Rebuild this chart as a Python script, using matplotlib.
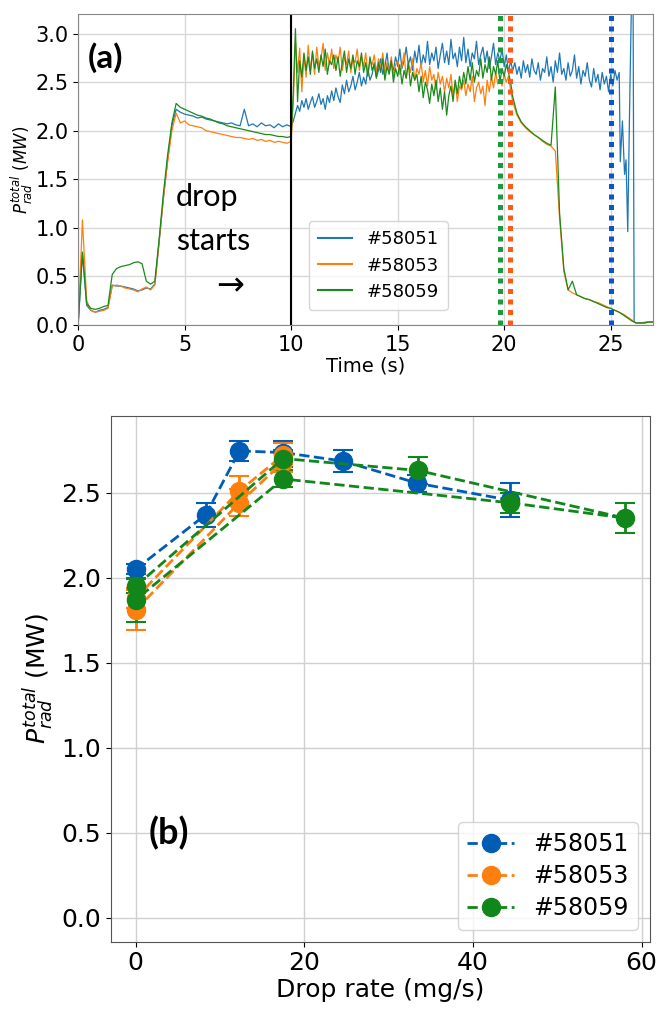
import matplotlib
matplotlib.use('Agg')
import matplotlib.pyplot as plt
from matplotlib.lines import Line2D
import numpy as np

# ---- panel (a): radiated power time traces ----
# segment A: 0 - 9.8 s every 0.2 s, segment B: 10.0 - 20.4 s every 0.1 s,
# segment C: after 20.4 s (0.2 s for #58053/#58059, 0.1 s for #58051)
shots = ['#58051', '#58053', '#58059']

p_58051_a = [
    0.00, 0.74, 0.20, 0.15, 0.13, 0.15, 0.16, 0.18, 0.41, 0.40,
    0.40, 0.39, 0.38, 0.37, 0.35, 0.36, 0.38, 0.37, 0.42, 0.85,
    1.30, 1.70, 2.05, 2.22, 2.19, 2.17, 2.16, 2.15, 2.13, 2.14,
    2.12, 2.11, 2.10, 2.09, 2.08, 2.07, 2.08, 2.06, 2.05, 2.22,
    2.05, 2.07, 2.04, 2.08, 2.05, 2.06, 2.03, 2.07, 2.04, 2.06,
]
p_58051_b = [
    2.04, 2.10, 2.18, 2.26, 2.20, 2.31, 2.24, 2.33, 2.22, 2.29,
    2.35, 2.24, 2.30, 2.38, 2.27, 2.33, 2.22, 2.36, 2.29, 2.41,
    2.31, 2.44, 2.35, 2.29, 2.47, 2.38, 2.52, 2.40, 2.46, 2.56,
    2.42, 2.50, 2.60, 2.46, 2.55, 2.48, 2.64, 2.52, 2.58, 2.70,
    2.55, 2.62, 2.74, 2.58, 2.66, 2.80, 2.60, 2.70, 2.62, 2.76,
    2.66, 2.84, 2.64, 2.72, 2.86, 2.68, 2.76, 2.62, 2.82, 2.70,
    2.88, 2.66, 2.78, 2.70, 2.92, 2.68, 2.80, 2.72, 2.86, 2.64,
    2.78, 2.90, 2.70, 2.82, 2.68, 2.94, 2.74, 2.80, 2.66, 2.86,
    2.72, 2.96, 2.70, 2.84, 2.66, 2.80, 2.74, 2.92, 2.68, 2.78,
    2.86, 2.70, 2.82, 2.64, 2.76, 2.90, 2.68, 2.80, 2.72, 2.84,
    2.66, 2.78, 2.60, 2.72, 2.62,
]
p_58051_c = [
    2.70, 2.58, 2.66, 2.54, 2.72,
    2.60, 2.68, 2.55, 2.74, 2.62, 2.58, 2.70, 2.52, 2.64, 2.60,
    2.76, 2.56, 2.66, 2.50, 2.72, 2.60, 2.80, 2.58, 2.64, 2.52,
    2.70, 2.56, 2.62, 2.78, 2.54, 2.66, 2.48, 2.62, 2.56, 2.70,
    2.52, 2.45, 2.64, 2.50, 2.58, 2.42, 2.60, 2.48, 2.56, 2.40,
    2.58, 2.46, 2.62, 2.52, 2.60,
]
# disruption of #58051
t_58051_tail = [25.45, 25.55, 25.65, 25.72, 25.8, 25.9, 25.98, 26.05, 26.1, 26.2, 26.4, 26.7, 27.0]
p_58051_tail = [1.68, 2.10, 1.55, 1.70, 0.96, 2.40, 3.40, 3.40, 0.03, 0.02, 0.02, 0.03, 0.03]

p_58053_a = [
    0.00, 1.08, 0.25, 0.15, 0.13, 0.14, 0.15, 0.17, 0.40, 0.41,
    0.40, 0.38, 0.37, 0.36, 0.34, 0.37, 0.39, 0.36, 0.41, 0.85,
    1.30, 1.68, 2.00, 2.18, 2.08, 2.10, 2.06, 2.05, 2.04, 2.03,
    2.00, 1.99, 1.98, 1.97, 1.96, 1.95, 1.94, 1.93, 1.93, 1.92,
    1.91, 1.92, 1.90, 1.91, 1.89, 1.90, 1.88, 1.89, 1.88, 1.87,
]
p_58053_b = [
    1.89, 2.30, 2.92, 2.60, 2.85, 2.40, 2.78, 2.55, 2.88, 2.62,
    2.80, 2.58, 2.86, 2.66, 2.74, 2.90, 2.62, 2.80, 2.68, 2.84,
    2.64, 2.78, 2.70, 2.86, 2.62, 2.76, 2.68, 2.82, 2.60, 2.74,
    2.70, 2.84, 2.62, 2.76, 2.66, 2.80, 2.58, 2.72, 2.68, 2.78,
    2.60, 2.74, 2.64, 2.80, 2.58, 2.70, 2.62, 2.76, 2.56, 2.68,
    2.72, 2.58, 2.66, 2.80, 2.54, 2.70, 2.60, 2.74, 2.52, 2.64,
    2.58, 2.70, 2.50, 2.62, 2.46, 2.66, 2.52, 2.58, 2.42, 2.60,
    2.48, 2.56, 2.40, 2.54, 2.44, 2.58, 2.36, 2.50, 2.30, 2.46,
    2.42, 2.52, 2.36, 2.48, 2.40, 2.56, 2.30, 2.44, 2.50, 2.38,
    2.46, 2.26, 2.52, 2.40, 2.56, 2.44, 2.60, 2.48, 2.54, 2.46,
    2.58, 2.50, 2.56, 2.42, 2.30,
]
p_58053_c = [
    2.16, 2.08, 2.03, 1.99, 1.96, 1.93, 1.89,
    1.86, 1.84, 1.79, 1.10, 0.55, 0.36, 0.33, 0.31, 0.29, 0.27,
    0.26, 0.24, 0.23, 0.21, 0.19, 0.17, 0.15, 0.13, 0.11, 0.08,
    0.05, 0.02, 0.02, 0.02, 0.03, 0.03,
]

p_58059_a = [
    0.00, 0.75, 0.22, 0.17, 0.16, 0.17, 0.19, 0.20, 0.52, 0.58,
    0.60, 0.61, 0.62, 0.64, 0.65, 0.63, 0.45, 0.42, 0.45, 0.88,
    1.35, 1.75, 2.08, 2.28, 2.24, 2.22, 2.20, 2.18, 2.16, 2.15,
    2.13, 2.12, 2.10, 2.08, 2.07, 2.05, 2.04, 2.03, 2.02, 2.01,
    2.00, 1.99, 1.98, 1.97, 1.96, 1.96, 1.95, 1.94, 1.94, 1.93,
]
p_58059_b = [
    1.94, 2.40, 3.05, 2.30, 2.72, 2.55, 2.80, 2.62, 2.76, 2.58,
    2.82, 2.64, 2.74, 2.60, 2.78, 2.66, 2.84, 2.58, 2.72, 2.68,
    2.78, 2.62, 2.76, 2.56, 2.70, 2.82, 2.60, 2.74, 2.64, 2.78,
    2.58, 2.72, 2.66, 2.80, 2.60, 2.70, 2.56, 2.76, 2.62, 2.68,
    2.54, 2.70, 2.60, 2.74, 2.52, 2.66, 2.58, 2.72, 2.50, 2.64,
    2.56, 2.68, 2.48, 2.62, 2.54, 2.70, 2.46, 2.60, 2.52, 2.58,
    2.40, 2.56, 2.34, 2.50, 2.42, 2.28, 2.48, 2.36, 2.52, 2.30,
    2.44, 2.22, 2.40, 2.16, 2.36, 2.46, 2.30, 2.52, 2.38, 2.56,
    2.44, 2.60, 2.48, 2.66, 2.52, 2.70, 2.50, 2.62, 2.56, 2.74,
    2.54, 2.68, 2.60, 2.76, 2.52, 2.66, 2.58, 2.72, 2.50, 2.64,
    2.56, 2.68, 2.60, 2.50, 2.35,
]
p_58059_c = [
    2.18, 2.09, 2.04, 2.00, 1.96, 1.93, 1.90,
    1.87, 1.85, 2.45, 1.15, 0.58, 0.36, 0.45, 0.31, 0.29, 0.27,
    0.26, 0.24, 0.22, 0.20, 0.18, 0.17, 0.15, 0.13, 0.10, 0.07,
    0.04, 0.02, 0.02, 0.02, 0.03, 0.03,
]

drop_start = 10.0
# end of drop injection per shot
drop_end = {'#58059': 19.8, '#58053': 20.25, '#58051': 25.0}

# ---- panel (b): mean radiated power vs drop rate ----
rate_58051 = [0, 8.3, 12.3, 17.5, 24.6, 33.4, 44.4]
prad_58051 = [2.05, 2.37, 2.745, 2.735, 2.685, 2.555, 2.455]
err_58051 = [0.03, 0.07, 0.06, 0.07, 0.065, 0.05, 0.10]

rate_58053 = [0, 12.3, 17.5, 17.5, 12.3, 0]
prad_58053 = [1.81, 2.44, 2.68, 2.72, 2.51, 1.88]
err_58053 = [0.12, 0.08, 0.06, 0.07, 0.09, 0.06]

rate_58059 = [0, 17.5, 33.5, 58.0, 44.4, 17.5, 0]
prad_58059 = [1.95, 2.70, 2.63, 2.35, 2.44, 2.58, 1.87]
err_58059 = [0.04, 0.05, 0.08, 0.09, 0.06, 0.05, 0.13]

line_colors = ['#1f77b4', '#ff7f0e', '#1b8a1b']
dot_colors = {'#58059': '#1a9a3a', '#58053': '#ff5a1a', '#58051': '#0a55c8'}
point_colors = ['#005db5', '#ff7f0e', '#11871b']


def main():
    fig = plt.figure(figsize=(6.68, 10.09), dpi=100)

    # ---------------- (a) ----------------
    ax1 = fig.add_axes([0.117, 0.678, 0.861, 0.308])
    t_a = np.arange(len(p_58053_a)) * 0.2
    t_b = 10.0 + np.arange(len(p_58053_b)) * 0.1
    t_c = 20.6 + np.arange(len(p_58053_c)) * 0.2
    t_c_blue = 20.5 + np.arange(len(p_58051_c)) * 0.1

    t1 = np.concatenate([t_a, t_b, t_c_blue, t_58051_tail])
    p1 = p_58051_a + p_58051_b + p_58051_c + p_58051_tail
    t23 = np.concatenate([t_a, t_b, t_c])
    ax1.plot(t1, p1, color=line_colors[0], lw=0.9, label=shots[0])
    ax1.plot(t23, p_58053_a + p_58053_b + p_58053_c, color=line_colors[1], lw=0.9, label=shots[1])
    ax1.plot(t23, p_58059_a + p_58059_b + p_58059_c, color=line_colors[2], lw=0.9, label=shots[2])

    ax1.axvline(drop_start, color='black', lw=1.5)
    for s in ['#58059', '#58053', '#58051']:
        ax1.axvline(drop_end[s], color=dot_colors[s], lw=3.6, ls=(0, (1, 1.1)))

    ax1.set_xlim(0, 27.0)
    ax1.set_ylim(0, 3.2)
    ax1.set_xticks([0, 5, 10, 15, 20, 25])
    ax1.set_yticks(np.arange(0, 3.01, 0.5))
    ax1.grid(True, color='#d8d8d8', lw=1)
    ax1.set_axisbelow(True)
    ax1.tick_params(labelsize=15)
    ax1.set_xlabel('Time (s)', fontsize=14, labelpad=1)
    ax1.set_ylabel(r'$P_{rad}^{total}\ (MW)$', fontsize=12, labelpad=0)
    for sp in ax1.spines.values():
        sp.set_color('#888888')

    ax1.text(0.016, 0.86, '(a)', transform=ax1.transAxes, fontsize=24,
             fontweight='bold', family='Lato', va='center', ha='left')
    ax1.text(4.6, 1.32, 'drop', fontsize=22, family='Lato', va='center', ha='left')
    ax1.text(4.6, 0.86, 'starts', fontsize=22, family='Lato', va='center', ha='left')
    ax1.text(6.5, 0.40, '\u2192', fontsize=24, va='center', ha='left')

    leg1 = ax1.legend(loc='lower left', bbox_to_anchor=(0.385, 0.02), fontsize=13,
                      handlelength=1.9, borderpad=0.5, labelspacing=0.45)
    for line in leg1.get_lines():
        line.set_linewidth(1.5)

    # ---------------- (b) ----------------
    ax2 = fig.add_axes([0.166, 0.0667, 0.807, 0.521])
    series = [(rate_58051, prad_58051, err_58051),
              (rate_58053, prad_58053, err_58053),
              (rate_58059, prad_58059, err_58059)]
    handles = []
    for i, (x, y, e) in enumerate(series):
        ax2.errorbar(x, y, yerr=e, fmt='o--', color=point_colors[i], ms=13, lw=2,
                     elinewidth=2, capsize=7, capthick=1.5)
        handles.append(Line2D([], [], color=point_colors[i], ls='--', lw=2,
                              marker='o', ms=13, label=shots[i]))

    ax2.set_xlim(-2.95, 61.0)
    ax2.set_ylim(-0.14, 2.95)
    ax2.set_xticks([0, 20, 40, 60])
    ax2.set_yticks(np.arange(0, 2.51, 0.5))
    ax2.grid(True, color='#d0d0d0', lw=1)
    ax2.set_axisbelow(True)
    ax2.tick_params(labelsize=18)
    ax2.set_xlabel('Drop rate (mg/s)', fontsize=18, labelpad=2)
    ax2.set_ylabel(r'$P_{rad}^{total}$ (MW)', fontsize=18, labelpad=4)
    for sp in ax2.spines.values():
        sp.set_color('#555555')

    ax2.text(1.5, 0.50, '(b)', fontsize=26, fontweight='bold', family='Lato',
             va='center', ha='left')
    ax2.legend(handles=handles, loc='lower right', fontsize=17, handlelength=2.0,
               borderpad=0.4, labelspacing=0.35)

    fig.savefig('out.png', dpi=100)


main()
